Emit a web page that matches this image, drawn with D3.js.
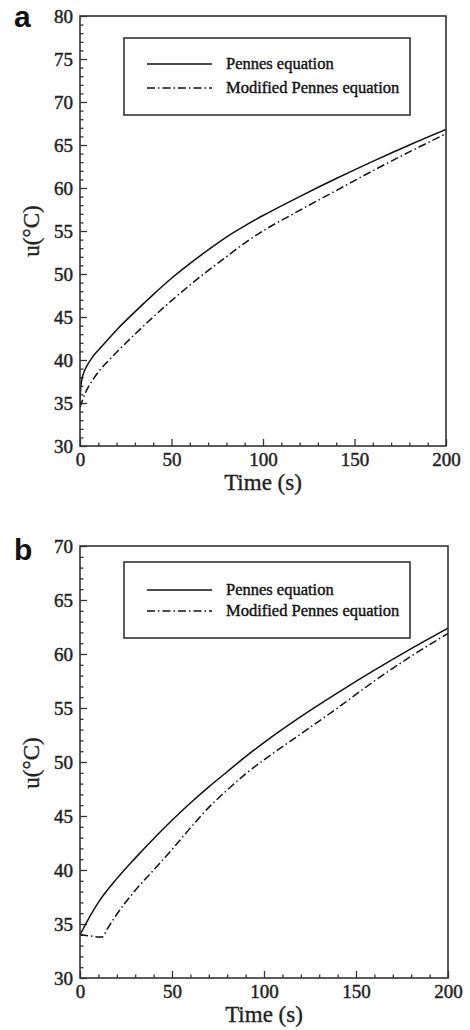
<!DOCTYPE html>
<html>
    <head>
        <style>
            body { margin: 0; background: white; }
            .cadre { fill: none; stroke: #333; stroke-width: 1.6; }
            .legende_border { fill: white; stroke: #333; stroke-width: 1.6; }
            .axe text { font-family: "Liberation Serif", serif; font-size: 19px; fill: #222; stroke: #222; stroke-width: 0.45; }
            .axe line { stroke: #333; stroke-width: 1.3; }
            .axe path { display: none; }
            .titre { font-family: "Liberation Serif", serif; font-size: 23px; fill: #222; stroke: #222; stroke-width: 0.35; }
            .legende text { font-family: "Liberation Serif", serif; font-size: 16.5px; fill: #111; stroke: #111; stroke-width: 0.4; }
            .lettre { font-family: "Liberation Sans", Arial, sans-serif; font-weight: bold; font-size: 30px; fill: #111; }
        </style>
    </head>
    <body>
        <div id="plateau"></div>
        <script src="https://cdn.jsdelivr.net/npm/d3@7"></script>
        <script>

//////////////////// donnees ////////////////////
let series_noms = ['Pennes equation', 'Modified Pennes equation'];

// panneau a
let temps_pennes_a = [0, 0.5, 1, 2, 4, 7, 12, 20, 30, 40, 50, 60, 70, 80, 90, 100, 120, 140, 160, 180, 200];
let pennes_a       = [35.0, 37.0, 37.7, 38.5, 39.4, 40.4, 41.6, 43.5, 45.6, 47.6, 49.5, 51.2, 52.8, 54.3, 55.6, 56.8, 59.0, 61.1, 63.1, 65.0, 66.8];
let temps_modif_a  = [0, 3, 7, 10, 15, 20, 30, 40, 50, 60, 70, 80, 90, 100, 120, 140, 160, 180, 200];
let modif_a        = [34.5, 36.2, 37.7, 38.6, 39.8, 40.9, 43.0, 45.0, 46.9, 48.7, 50.4, 52.0, 53.6, 55.0, 57.4, 59.7, 62.0, 64.2, 66.3];

// panneau b
let temps_pennes_b = [0, 5, 10, 20, 30, 40, 50, 60, 70, 80, 90, 100, 120, 140, 160, 180, 200];
let pennes_b       = [34.0, 35.6, 37.0, 39.2, 41.1, 42.9, 44.6, 46.2, 47.7, 49.1, 50.5, 51.8, 54.2, 56.4, 58.5, 60.5, 62.4];
let temps_modif_b  = [0, 5, 10, 12, 15, 20, 30, 40, 50, 60, 70, 80, 90, 100, 120, 140, 160, 180, 200];
let modif_b        = [34.0, 33.9, 33.8, 33.8, 34.6, 35.9, 38.1, 40.0, 41.9, 43.9, 45.8, 47.4, 48.9, 50.2, 52.6, 55.0, 57.5, 59.8, 61.9];

// axes
let x_domaine = [0, 200];
let x_majeurs = [0, 50, 100, 150, 200];
let y_domaine_a = [30, 80];
let y_majeurs_a = [30, 35, 40, 45, 50, 55, 60, 65, 70, 75, 80];
let y_domaine_b = [30, 70];
let y_majeurs_b = [30, 35, 40, 45, 50, 55, 60, 65, 70];

//////////////////// page ////////////////////
let W = 470;
let H = 1030;
let DASH = '8,3,1.5,3';

let svg = d3.select('#plateau').append('svg')
    .attr('width', W)
    .attr('height', H);

genPanneau({
    lettre: 'a', left: 80, right: 446, top: 16, bottom: 446,
    y_domaine: y_domaine_a, y_majeurs: y_majeurs_a,
    legende: {x: 124, y: 38, w: 286, h: 77, dy1: 26, dy2: 50},
    lettre_y: 27, titre_y: 231,
    series: [
        {t: temps_pennes_a, v: pennes_a},
        {t: temps_modif_a, v: modif_a}
    ]
});

genPanneau({
    lettre: 'b', left: 80, right: 448, top: 546, bottom: 978,
    y_domaine: y_domaine_b, y_majeurs: y_majeurs_b,
    legende: {x: 124, y: 562, w: 286, h: 76, dy1: 28, dy2: 49},
    lettre_y: 560, titre_y: 763,
    series: [
        {t: temps_pennes_b, v: pennes_b},
        {t: temps_modif_b, v: modif_b}
    ]
});

//////////////////// function gen ////////////////////
function genPanneau(p) {
    let x = d3.scaleLinear().domain(x_domaine).range([p.left, p.right]);
    let y = d3.scaleLinear().domain(p.y_domaine).range([p.bottom, p.top]);

    let g = svg.append('g').attr('id', 'panneau_' + p.lettre);

    let clip_id = 'clip_' + p.lettre;
    g.append('clipPath').attr('id', clip_id)
        .append('rect')
        .attr('x', p.left).attr('y', p.top)
        .attr('width', p.right - p.left).attr('height', p.bottom - p.top);

    // minor ticks
    let x_mineurs = d3.range(x_domaine[0], x_domaine[1] + 1, 10).filter(d => d % 50 != 0);
    let y_mineurs = d3.range(p.y_domaine[0], p.y_domaine[1] + 1, 1).filter(d => d % 5 != 0);

    g.append('g').classed('axe', true)
        .attr('transform', `translate(0, ${p.bottom})`)
        .call(d3.axisBottom(x).tickValues(x_mineurs).tickSize(-3.5).tickFormat(''));
    g.append('g').classed('axe', true)
        .attr('transform', `translate(${p.left}, 0)`)
        .call(d3.axisLeft(y).tickValues(y_mineurs).tickSize(-3.5).tickFormat(''));

    // major ticks
    g.append('g').classed('axe', true)
        .attr('transform', `translate(0, ${p.bottom})`)
        .call(d3.axisBottom(x).tickValues(x_majeurs).tickSize(-7).tickPadding(7).tickFormat(d3.format('d')));
    g.append('g').classed('axe', true)
        .attr('transform', `translate(${p.left}, 0)`)
        .call(d3.axisLeft(y).tickValues(p.y_majeurs).tickSize(-7).tickPadding(7).tickFormat(d3.format('d')));

    // courbes
    let ligne = d3.line()
        .x(d => x(d[0]))
        .y(d => y(d[1]))
        .curve(d3.curveMonotoneX);

    p.series.forEach((s, idx) => {
        g.append('path')
            .datum(d3.zip(s.t, s.v))
            .attr('clip-path', `url(#${clip_id})`)
            .attr('d', ligne)
            .attr('fill', 'none')
            .attr('stroke', '#111')
            .attr('stroke-width', 1.5)
            .attr('stroke-dasharray', idx == 0 ? null : DASH);
    });

    // cadre
    g.append('rect')
        .classed('cadre', true)
        .attr('x', p.left).attr('y', p.top)
        .attr('width', p.right - p.left).attr('height', p.bottom - p.top);

    // legende
    let L = p.legende;
    let leg = g.append('g').classed('legende', true)
        .attr('transform', `translate(${L.x}, ${L.y})`);
    leg.append('rect')
        .classed('legende_border', true)
        .attr('width', L.w).attr('height', L.h);
    series_noms.forEach((nom, idx) => {
        let yy = idx == 0 ? L.dy1 : L.dy2;
        leg.append('line')
            .attr('x1', 23).attr('x2', 88)
            .attr('y1', yy).attr('y2', yy)
            .attr('stroke', '#111')
            .attr('stroke-width', 1.4)
            .attr('stroke-dasharray', idx == 0 ? null : DASH);
        leg.append('text')
            .attr('x', 102).attr('y', yy)
            .attr('dy', '0.33em')
            .text(nom);
    });

    // titres
    g.append('text')
        .classed('titre', true)
        .attr('x', (p.left + p.right) / 2)
        .attr('y', p.bottom + 44)
        .attr('text-anchor', 'middle')
        .text('Time (s)');

    g.append('text')
        .classed('titre', true)
        .attr('transform', `translate(31, ${p.titre_y}) rotate(-90)`)
        .attr('text-anchor', 'middle')
        .attr('dominant-baseline', 'central')
        .text('u(°C)');

    g.append('text')
        .classed('lettre', true)
        .attr('x', 14)
        .attr('y', p.lettre_y)
        .text(p.lettre);
}

        </script>
    </body>
</html>
